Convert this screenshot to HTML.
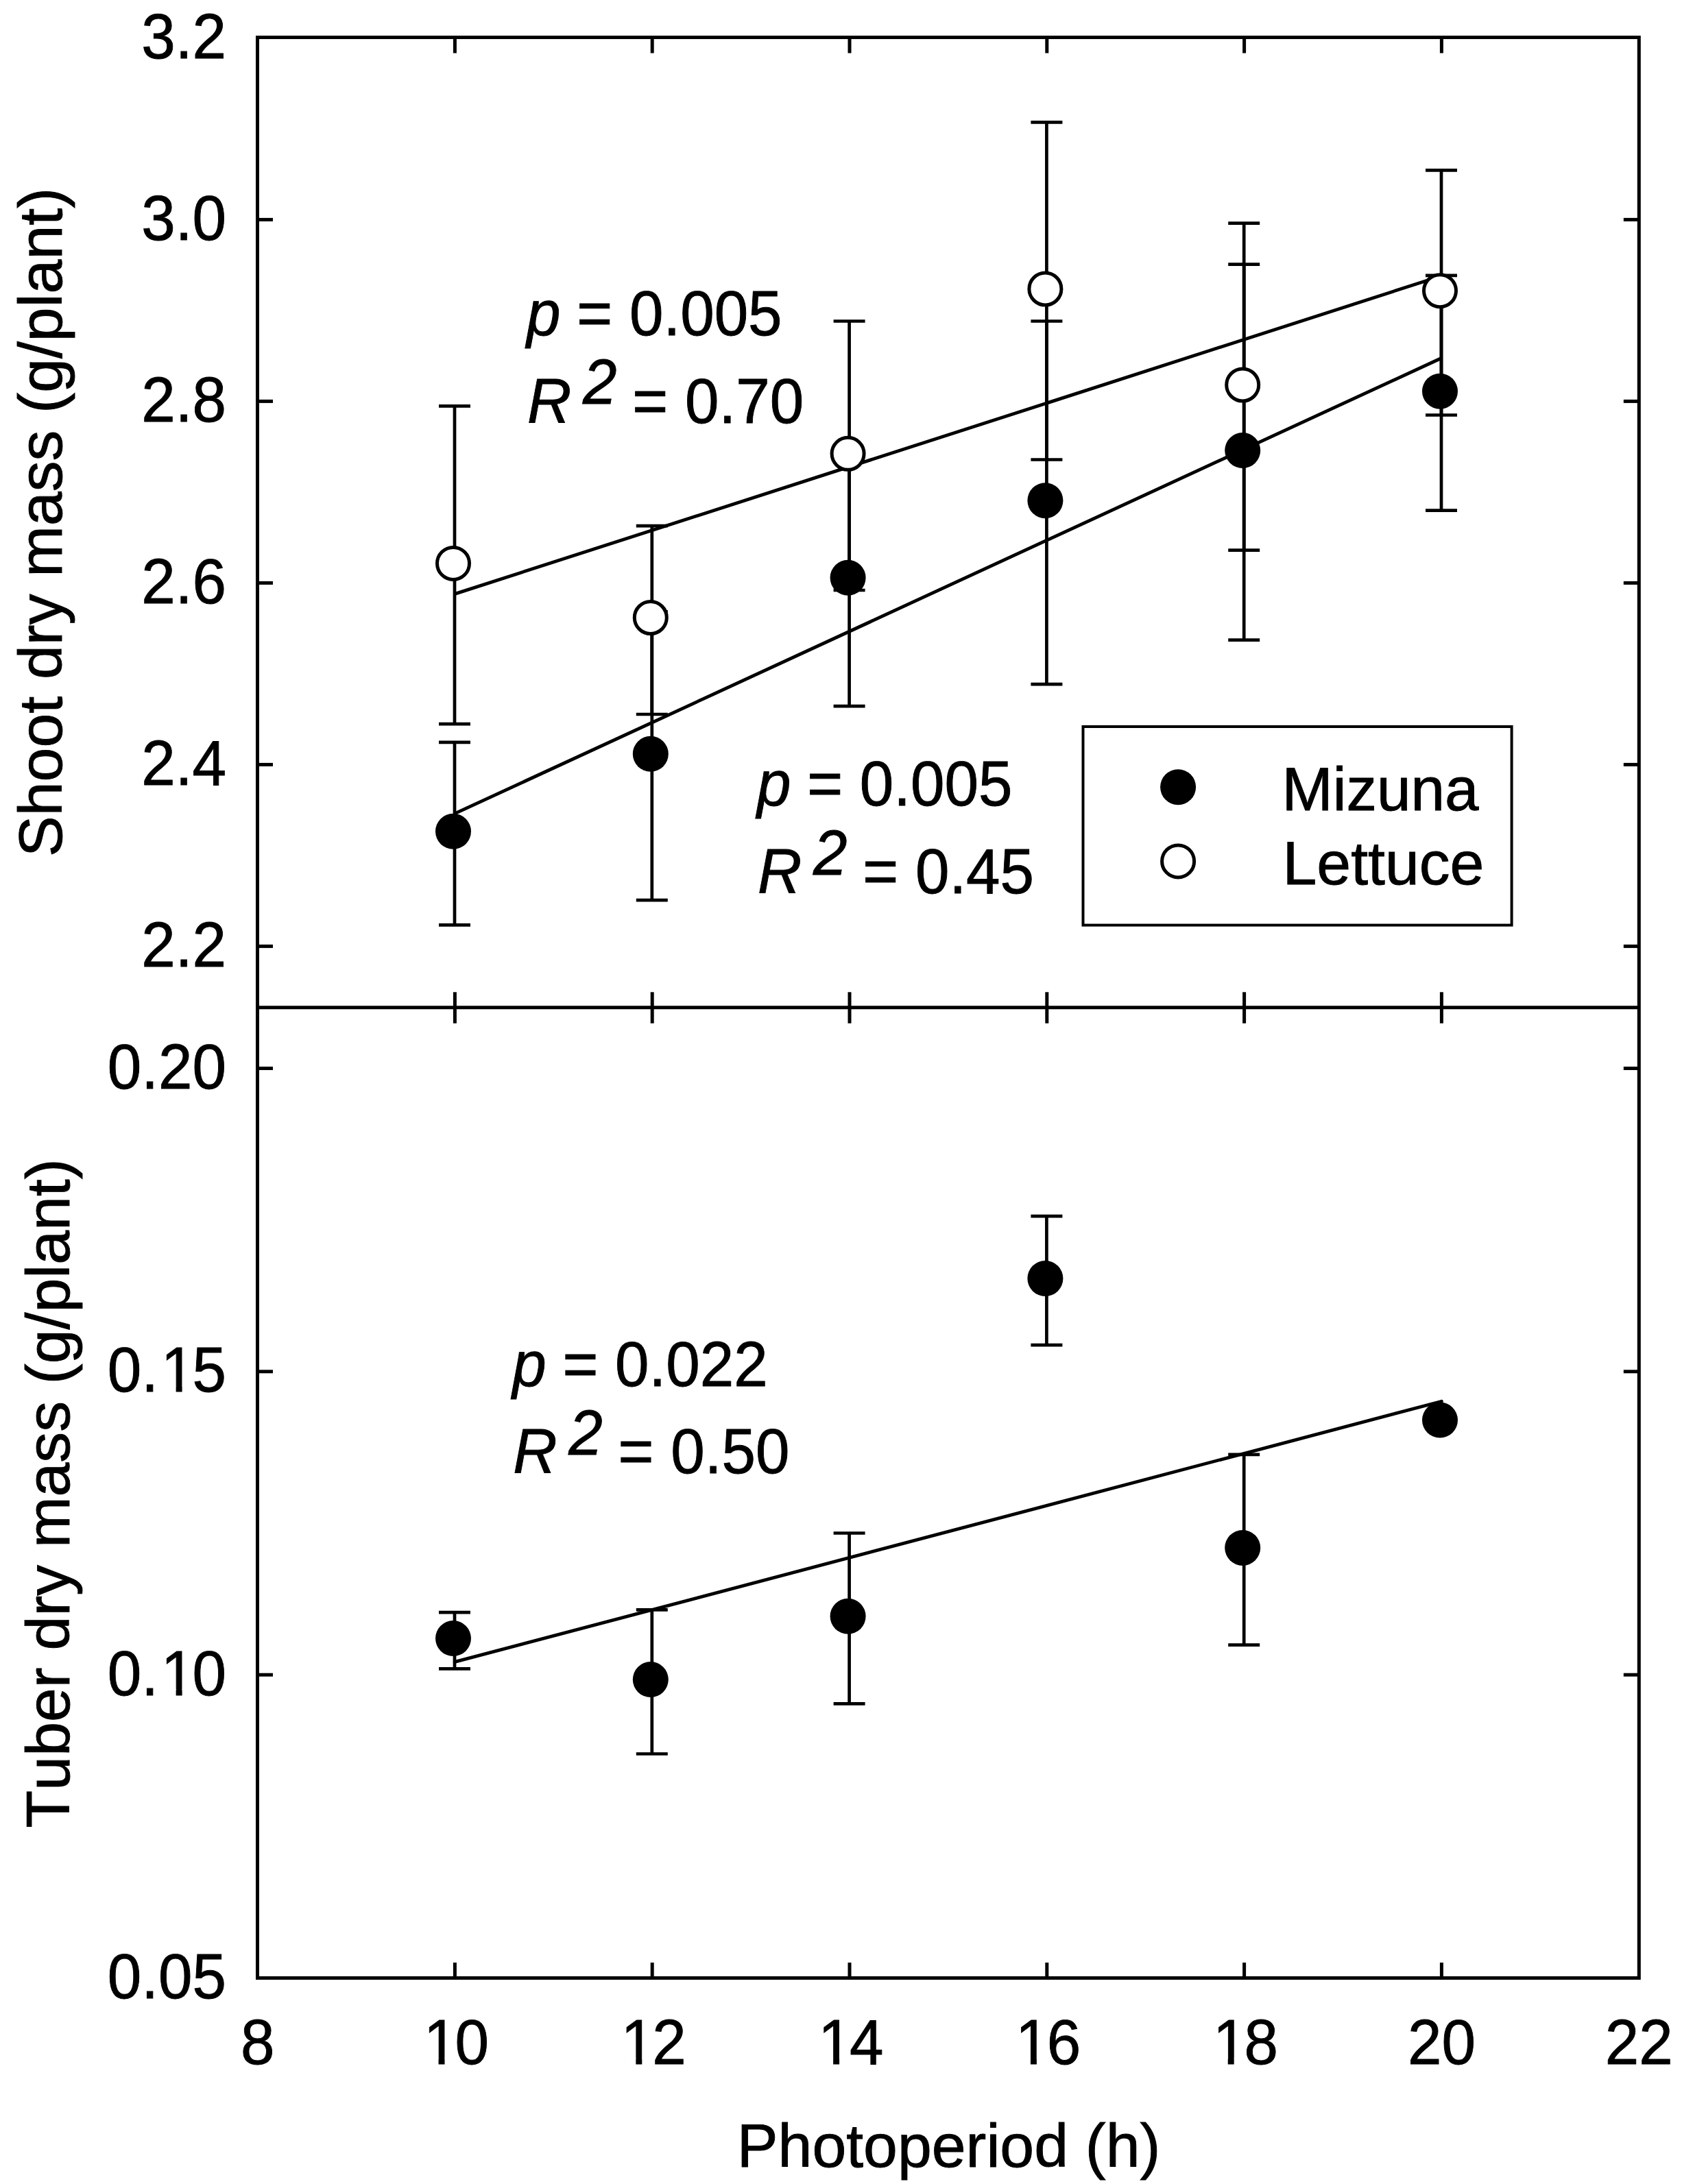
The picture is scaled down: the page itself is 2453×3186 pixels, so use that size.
<!DOCTYPE html>
<html lang="en"><head><meta charset="utf-8"><title>Figure</title>
<style>
html,body{margin:0;padding:0;background:#fff;}
body{width:2453px;height:3186px;overflow:hidden;}
svg{display:block;}
text{font-family:"Liberation Sans",Arial,Helvetica,sans-serif;font-size:89px;fill:#000;stroke:#000;stroke-width:0.9px;font-kerning:none;white-space:pre;}
.i{font-style:italic;}
.ln{stroke:#000;fill:none;}
</style></head><body>
<svg width="2453" height="3186" viewBox="0 0 2453 3186">
<rect x="0" y="0" width="2453" height="3186" fill="#fff"/>
<g class="ln" stroke-width="5" stroke-linejoin="miter">
<rect x="375.5" y="54.5" width="2014.8" height="2831"/>
<line x1="375.5" y1="1469.8" x2="2390.3" y2="1469.8"/>
<line x1="663.4" y1="54.5" x2="663.4" y2="77.5"/>
<line x1="663.4" y1="1447.3" x2="663.4" y2="1492.8"/>
<line x1="663.4" y1="2863" x2="663.4" y2="2885.5"/>
<line x1="951.2" y1="54.5" x2="951.2" y2="77.5"/>
<line x1="951.2" y1="1447.3" x2="951.2" y2="1492.8"/>
<line x1="951.2" y1="2863" x2="951.2" y2="2885.5"/>
<line x1="1239.0" y1="54.5" x2="1239.0" y2="77.5"/>
<line x1="1239.0" y1="1447.3" x2="1239.0" y2="1492.8"/>
<line x1="1239.0" y1="2863" x2="1239.0" y2="2885.5"/>
<line x1="1526.8" y1="54.5" x2="1526.8" y2="77.5"/>
<line x1="1526.8" y1="1447.3" x2="1526.8" y2="1492.8"/>
<line x1="1526.8" y1="2863" x2="1526.8" y2="2885.5"/>
<line x1="1814.6" y1="54.5" x2="1814.6" y2="77.5"/>
<line x1="1814.6" y1="1447.3" x2="1814.6" y2="1492.8"/>
<line x1="1814.6" y1="2863" x2="1814.6" y2="2885.5"/>
<line x1="2102.4" y1="54.5" x2="2102.4" y2="77.5"/>
<line x1="2102.4" y1="1447.3" x2="2102.4" y2="1492.8"/>
<line x1="2102.4" y1="2863" x2="2102.4" y2="2885.5"/>
<line x1="375.5" y1="320.4" x2="398" y2="320.4"/>
<line x1="2367.8" y1="320.4" x2="2390.3" y2="320.4"/>
<line x1="375.5" y1="585.4" x2="398" y2="585.4"/>
<line x1="2367.8" y1="585.4" x2="2390.3" y2="585.4"/>
<line x1="375.5" y1="850.4" x2="398" y2="850.4"/>
<line x1="2367.8" y1="850.4" x2="2390.3" y2="850.4"/>
<line x1="375.5" y1="1115.4" x2="398" y2="1115.4"/>
<line x1="2367.8" y1="1115.4" x2="2390.3" y2="1115.4"/>
<line x1="375.5" y1="1380.4" x2="398" y2="1380.4"/>
<line x1="2367.8" y1="1380.4" x2="2390.3" y2="1380.4"/>
<line x1="375.5" y1="1558.5" x2="398" y2="1558.5"/>
<line x1="2367.8" y1="1558.5" x2="2390.3" y2="1558.5"/>
<line x1="375.5" y1="2000.8" x2="398" y2="2000.8"/>
<line x1="2367.8" y1="2000.8" x2="2390.3" y2="2000.8"/>
<line x1="375.5" y1="2443.2" x2="398" y2="2443.2"/>
<line x1="2367.8" y1="2443.2" x2="2390.3" y2="2443.2"/>
</g>
<g class="ln" stroke-width="4.7" stroke-linecap="butt">
<path d="M663.0 1082.9V1349.4M640.0 1082.9H686.0M640.0 1349.4H686.0"/>
<path d="M950.8 892.4V1313.2M927.8 892.4H973.8M927.8 1313.2H973.8"/>
<path d="M1238.6 661.4V1030.2M1215.6 661.4H1261.6M1215.6 1030.2H1261.6"/>
<path d="M1526.4 468.5V998.1M1503.4 468.5H1549.4M1503.4 998.1H1549.4"/>
<path d="M1814.2 385.7V933.7M1791.2 385.7H1837.2M1791.2 933.7H1837.2"/>
<path d="M2102.0 401.8V744.7M2079.0 401.8H2125.0M2079.0 744.7H2125.0"/>
<path d="M663.0 592.4V1056.1M640.0 592.4H686.0M640.0 1056.1H686.0"/>
<path d="M950.8 767.2V1042.0M927.8 767.2H973.8M927.8 1042.0H973.8"/>
<path d="M1238.6 468.5V861.0M1215.6 468.5H1261.6M1215.6 861.0H1261.6"/>
<path d="M1526.4 178.3V670.5M1503.4 178.3H1549.4M1503.4 670.5H1549.4"/>
<path d="M1814.2 325.6V802.6M1791.2 325.6H1837.2M1791.2 802.6H1837.2"/>
<path d="M2102.0 248.4V605.5M2079.0 248.4H2125.0M2079.0 605.5H2125.0"/>
<path d="M663.0 2352.1V2434.4M640.0 2352.1H686.0M640.0 2434.4H686.0"/>
<path d="M950.8 2348.3V2558.5M927.8 2348.3H973.8M927.8 2558.5H973.8"/>
<path d="M1238.6 2236.5V2485.3M1215.6 2236.5H1261.6M1215.6 2485.3H1261.6"/>
<path d="M1526.4 1774.2V1962.1M1503.4 1774.2H1549.4M1503.4 1962.1H1549.4"/>
<path d="M1814.2 2121.9V2399.6M1791.2 2121.9H1837.2M1791.2 2399.6H1837.2"/>
</g>
<g class="ln" stroke-width="4.8" stroke-linecap="round">
<line x1="664.2" y1="866.1" x2="2101.4" y2="402.7"/>
<line x1="664.2" y1="1186.4" x2="2101.4" y2="522.8"/>
<line x1="663.2" y1="2424.4" x2="2102.4" y2="2044.2"/>
</g>
<g fill="#000" stroke="none">
<circle cx="661.0" cy="1212.8" r="26"/>
<circle cx="948.8" cy="1099.8" r="26"/>
<circle cx="1236.6" cy="842.8" r="26"/>
<circle cx="1524.4" cy="730.2" r="26"/>
<circle cx="1812.2" cy="657.1" r="26"/>
<circle cx="2100.0" cy="570.7" r="26"/>
<circle cx="661.0" cy="2390.1" r="26"/>
<circle cx="948.8" cy="2450.1" r="26"/>
<circle cx="1236.6" cy="2357.8" r="26"/>
<circle cx="1524.4" cy="1865.0" r="26"/>
<circle cx="1812.2" cy="2257.9" r="26"/>
<circle cx="2100.0" cy="2071.6" r="26"/>
<circle cx="1718.1" cy="1148.2" r="26"/>
</g>
<g fill="#fff" stroke="#000" stroke-width="5">
<circle cx="661.0" cy="821.9" r="23.5"/>
<circle cx="948.8" cy="901.0" r="23.5"/>
<circle cx="1236.6" cy="661.8" r="23.5"/>
<circle cx="1524.4" cy="421.5" r="23.5"/>
<circle cx="1812.2" cy="561.5" r="23.5"/>
<circle cx="2100.0" cy="424.2" r="23.5"/>
<circle cx="1718.1" cy="1256.4" r="23.5"/>
</g>
<rect class="ln" stroke-width="4" x="1579.5" y="1060" width="625.1" height="289.6"/>
<text transform="translate(1869.5 1181.5)">Mizuna</text>
<text transform="translate(1870.5 1289.7)" style="font-size:89.6px">Lettuce</text>
<text transform="translate(206.3 84.9) scale(1 1.035)">3.2</text>
<text transform="translate(206.3 349.9) scale(1 1.035)">3.0</text>
<text transform="translate(206.3 614.9) scale(1 1.035)">2.8</text>
<text transform="translate(206.3 879.9) scale(1 1.035)">2.6</text>
<text transform="translate(206.3 1144.9) scale(1 1.035)">2.4</text>
<text transform="translate(206.3 1409.9) scale(1 1.035)">2.2</text>
<text transform="translate(156.8 1588.0) scale(1 1.035)">0.20</text>
<text transform="translate(156.8 2030.3) scale(1 1.035)" x="0.00 49.50 78.02 123.72">0.15</text>
<text transform="translate(156.8 2472.7) scale(1 1.035)" x="0.00 49.50 78.02 123.72">0.10</text>
<text transform="translate(156.8 2915.0) scale(1 1.035)">0.05</text>
<text transform="translate(350.9 3011.0) scale(1 1.035)">8</text>
<text transform="translate(613.9 3011.0) scale(1 1.035)" x="3.80 49.50">10</text>
<text transform="translate(901.7 3011.0) scale(1 1.035)" x="3.80 49.50">12</text>
<text transform="translate(1189.5 3011.0) scale(1 1.035)" x="3.80 49.50">14</text>
<text transform="translate(1477.3 3011.0) scale(1 1.035)" x="3.80 49.50">16</text>
<text transform="translate(1765.1 3011.0) scale(1 1.035)" x="3.80 49.50">18</text>
<text transform="translate(2052.9 3011.0) scale(1 1.035)">20</text>
<text transform="translate(2340.7 3011.0) scale(1 1.035)">22</text>
<text transform="translate(1383.6 3160.6) translate(-308.81 0)" style="font-size:89.6px">Photoperiod (h)</text>
<text transform="translate(90.0 762.0) rotate(-90) translate(-488.03 0)" style="font-size:89.6px">Shoot dry mass (g/plant)</text>
<text transform="translate(101.2 2178.4) rotate(-90) translate(-487.99 0)" style="font-size:89.6px">Tuber dry mass (g/plant)</text>
<text transform="translate(767.0 488.9) scale(1 1.035)"><tspan class="i" dx="1">p</tspan><tspan dx="-1"> = 0.005</tspan></text>
<text transform="translate(767.0 616.6) scale(1 1.035)"><tspan class="i" dx="2">R</tspan><tspan class="i" dx="16.8" dy="-26.8">2</tspan><tspan dx="-2" dy="26.8"> = 0.70</tspan></text>
<text transform="translate(1102.9 1175.3) scale(1 1.035)"><tspan class="i" dx="1">p</tspan><tspan dx="-1"> = 0.005</tspan></text>
<text transform="translate(1102.9 1303.3) scale(1 1.035)"><tspan class="i" dx="2">R</tspan><tspan class="i" dx="16.8" dy="-26.8">2</tspan><tspan dx="-2" dy="26.8"> = 0.45</tspan></text>
<text transform="translate(746.2 2022.4) scale(1 1.035)"><tspan class="i" dx="1">p</tspan><tspan dx="-1"> = 0.022</tspan></text>
<text transform="translate(746.2 2149.3) scale(1 1.035)"><tspan class="i" dx="2">R</tspan><tspan class="i" dx="16.8" dy="-26.8">2</tspan><tspan dx="-2" dy="26.8"> = 0.50</tspan></text>
<g fill="#fff" stroke="none">
<rect x="240.38" y="2021.65" width="16.25" height="10.68"/>
<rect x="265.60" y="2021.65" width="15.56" height="10.68"/>
<rect x="240.38" y="2463.98" width="16.25" height="10.68"/>
<rect x="265.60" y="2463.98" width="15.56" height="10.68"/>
<rect x="623.28" y="3002.32" width="16.25" height="10.68"/>
<rect x="648.50" y="3002.32" width="15.56" height="10.68"/>
<rect x="911.08" y="3002.32" width="16.25" height="10.68"/>
<rect x="936.30" y="3002.32" width="15.56" height="10.68"/>
<rect x="1198.88" y="3002.32" width="16.25" height="10.68"/>
<rect x="1224.10" y="3002.32" width="15.56" height="10.68"/>
<rect x="1486.68" y="3002.32" width="16.25" height="10.68"/>
<rect x="1511.90" y="3002.32" width="15.56" height="10.68"/>
<rect x="1774.48" y="3002.32" width="16.25" height="10.68"/>
<rect x="1799.70" y="3002.32" width="15.56" height="10.68"/>
</g>
</svg></body></html>
